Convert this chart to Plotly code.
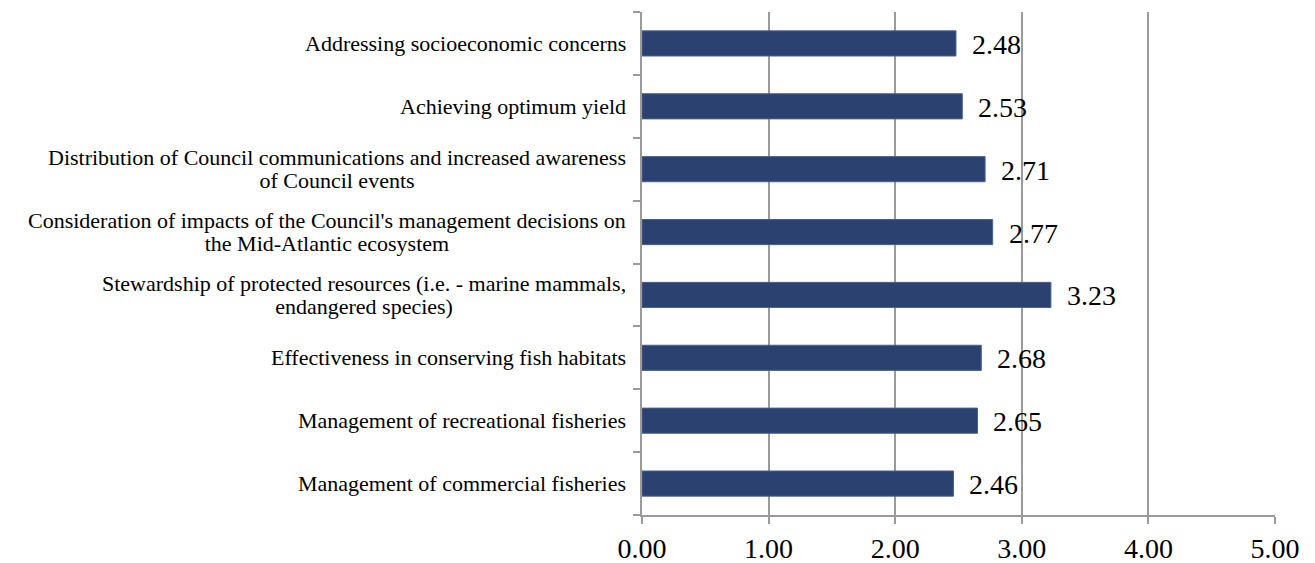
import plotly.graph_objects as go

categories = [
    "Management of commercial fisheries",
    "Management of recreational fisheries",
    "Effectiveness in conserving fish habitats",
    "Stewardship of protected resources (i.e. - marine mammals,<br>endangered species)",
    "Consideration of impacts of the Council's management decisions on<br>the Mid-Atlantic ecosystem",
    "Distribution of Council communications and increased awareness<br>of Council events",
    "Achieving optimum yield",
    "Addressing socioeconomic concerns",
]
scores = [2.46, 2.65, 2.68, 3.23, 2.77, 2.71, 2.53, 2.48]
tick_vals = [0, 1, 2, 3, 4, 5]
tick_text = ["0.00", "1.00", "2.00", "3.00", "4.00", "5.00"]

FONT = "Liberation Serif"
BAR = "#2B4270"
GRID = "#9A9A9A"

fig = go.Figure()
fig.add_trace(go.Bar(
    x=scores,
    y=list(range(len(categories))),
    orientation="h",
    width=0.4,
    marker=dict(color=BAR, line=dict(color="#4A6290", width=1)),
    hoverinfo="skip",
))

# value labels to the right of each bar
for i, v in enumerate(scores):
    fig.add_annotation(
        x=v, xref="x", y=i, yref="y",
        text=f"{v:.2f}", showarrow=False,
        xanchor="left", xshift=14, yshift=-1,
        font=dict(family=FONT, size=28, color="black"),
    )

# category labels: lines centred on each other, block right-aligned to the axis;
# the outer font size sets a tight line pitch, the span sets the glyph size
for i, c in enumerate(categories):
    lines = c.split("<br>")
    text = "<br>".join(f"<span style='font-size:22px'>{ln}</span>" for ln in lines)
    fig.add_annotation(
        x=0, xref="paper", y=i, yref="y",
        text=text, showarrow=False,
        xanchor="right", xshift=-14, align="center",
        font=dict(family=FONT, size=17.5, color="black"),
    )

fig.update_layout(
    width=1315, height=563,
    margin=dict(l=642, r=40, t=12, b=48),
    paper_bgcolor="white", plot_bgcolor="white",
    showlegend=False,
    xaxis=dict(
        range=[0, 5], tickvals=tick_vals, ticktext=tick_text,
        showgrid=True, gridcolor=GRID, gridwidth=2,
        showline=True, linecolor=GRID, linewidth=2,
        ticks="outside", ticklen=7, tickwidth=2, tickcolor=GRID,
        tickfont=dict(family=FONT, size=28, color="black"),
        zeroline=False, automargin=False,
    ),
    yaxis=dict(
        range=[-0.5, len(categories) - 0.5],
        tickvals=[i - 0.5 for i in range(len(categories) + 1)],
        ticktext=[""] * (len(categories) + 1),
        showgrid=False, zeroline=False,
        showline=True, linecolor=GRID, linewidth=2,
        ticks="outside", ticklen=7, tickwidth=2, tickcolor=GRID,
        automargin=False,
    ),
)

fig.write_html("out.html")
